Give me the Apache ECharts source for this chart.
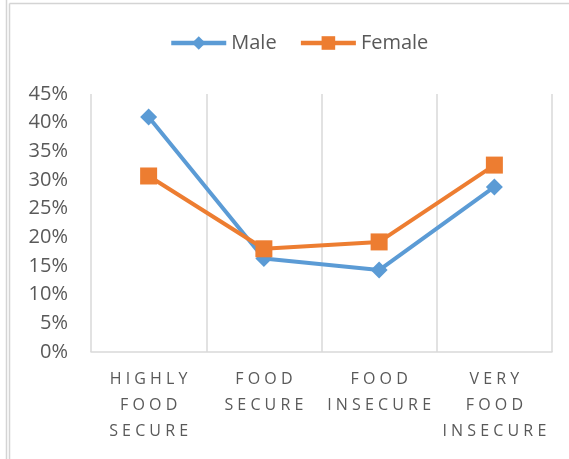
<!DOCTYPE html>
<html>
<head>
<meta charset="utf-8">
<script src="https://cdn.jsdelivr.net/npm/echarts@6/dist/echarts.min.js"></script>
<style>
  html, body { margin: 0; padding: 0; background: #ffffff; }
  #chart { width: 569px; height: 459px; }
</style>
</head>
<body>
<div id="chart"></div>
<script>
// Food security status by sex (percent of respondents)
const categories = ['HIGHLY FOOD SECURE', 'FOOD SECURE', 'FOOD INSECURE', 'VERY FOOD INSECURE'];
const maleValues = [41.0, 16.3, 14.3, 28.8];
const femaleValues = [30.7, 18.0, 19.2, 32.6];
const seriesNames = ['Male', 'Female'];

const textColor = '#595959';
const gridColor = '#d9d9d9';
const fontFamily = '"Open Sans", "Liberation Sans", sans-serif';

// Category labels: one word per line, letters spread apart
function spacedLabel(name) {
  return name.split(' ').map(w => w.split('').join(' ')).join('\n');
}

const chart = echarts.init(document.getElementById('chart'), null, { renderer: 'canvas' });

chart.setOption({
  animation: false,
  backgroundColor: '#ffffff',
  textStyle: { fontFamily: fontFamily },
  graphic: [
    { type: 'line', silent: true, shape: { x1: 6.5, y1: 0, x2: 6.5, y2: 459 }, style: { stroke: '#d4d4d4', lineWidth: 1.5 } },
    { type: 'line', silent: true, shape: { x1: 9.5, y1: 3.5, x2: 9.5, y2: 459 }, style: { stroke: '#d4d4d4', lineWidth: 1.5 } },
    { type: 'line', silent: true, shape: { x1: 9.5, y1: 3.5, x2: 569, y2: 3.5 }, style: { stroke: '#d4d4d4', lineWidth: 1.5 } }
  ],
  legend: {
    data: seriesNames,
    left: 164,
    top: 28,
    itemWidth: 55,
    itemHeight: 17,
    itemGap: 22,
    lineStyle: { width: 4.5 },
    textStyle: { color: textColor, fontSize: 20, fontFamily: fontFamily }
  },
  grid: {
    left: 91,
    right: 17,
    top: 94,
    bottom: 107,
    containLabel: false
  },
  xAxis: {
    type: 'category',
    data: categories,
    boundaryGap: true,
    axisLine: { show: true, lineStyle: { color: gridColor, width: 1.5 } },
    axisTick: { show: false },
    splitLine: { show: true, lineStyle: { color: gridColor, width: 1.5 } },
    axisLabel: {
      interval: 0,
      margin: 14,
      color: textColor,
      fontSize: 16,
      lineHeight: 26,
      fontFamily: fontFamily,
      align: 'center',
      formatter: spacedLabel
    }
  },
  yAxis: {
    type: 'value',
    min: 0,
    max: 45,
    interval: 5,
    axisLine: { show: false },
    axisTick: { show: false },
    splitLine: { show: false },
    axisLabel: {
      margin: 23,
      color: textColor,
      fontSize: 20,
      fontFamily: fontFamily,
      formatter: '{value}%'
    }
  },
  series: [
    {
      name: seriesNames[0],
      type: 'line',
      data: maleValues,
      symbol: 'diamond',
      symbolSize: 17,
      lineStyle: { color: '#5b9bd5', width: 4 },
      itemStyle: { color: '#5b9bd5', borderWidth: 0 },
      z: 2
    },
    {
      name: seriesNames[1],
      type: 'line',
      data: femaleValues,
      symbol: 'rect',
      symbolSize: 17,
      lineStyle: { color: '#ed7d31', width: 4 },
      itemStyle: { color: '#ed7d31', borderWidth: 0 },
      z: 3
    }
  ]
});
</script>
</body>
</html>
